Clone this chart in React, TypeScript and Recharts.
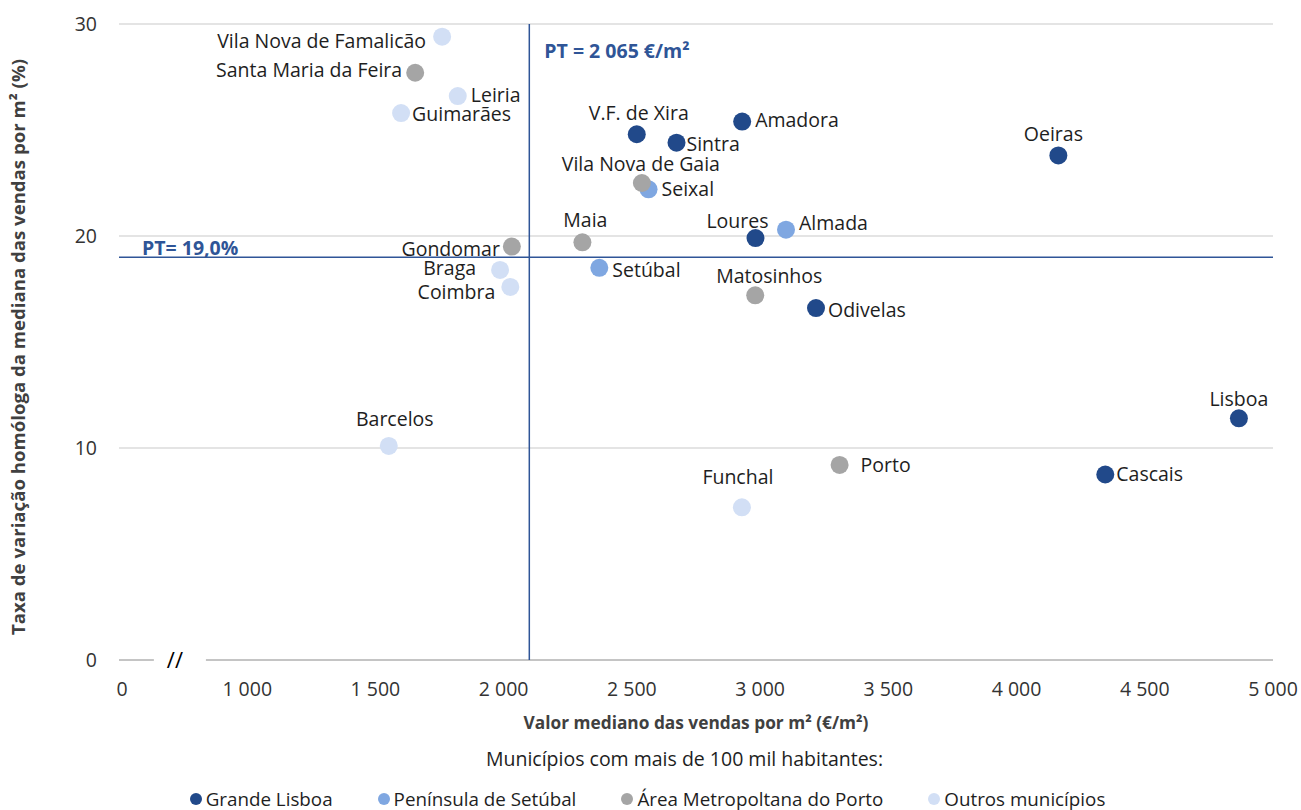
import React from 'react';
import {
  ScatterChart,
  Scatter,
  XAxis,
  YAxis,
  ReferenceLine,
  ReferenceDot,
  Legend,
} from 'recharts';

// ---------- data ----------
const lisboaNames = ['V.F. de Xira', 'Sintra', 'Amadora', 'Oeiras', 'Loures', 'Odivelas', 'Lisboa', 'Cascais'];
const lisboaX = [2519, 2674, 2930, 4163, 2982, 3218, 4867, 4346];
const lisboaY = [24.8, 24.4, 25.4, 23.8, 19.9, 16.6, 11.4, 8.75];

const setubalNames = ['Seixal', 'Almada', 'Setúbal'];
const setubalX = [2565, 3101, 2373];
const setubalY = [22.2, 20.3, 18.5];

const portoNames = ['Santa Maria da Feira', 'Vila Nova de Gaia', 'Gondomar', 'Maia', 'Matosinhos', 'Porto'];
const portoX = [1655, 2539, 2032, 2307, 2981, 3310];
const portoY = [27.7, 22.5, 19.5, 19.7, 17.2, 9.2];

const outrosNames = ['Vila Nova de Famalicão', 'Leiria', 'Guimarães', 'Braga', 'Coimbra', 'Barcelos', 'Funchal'];
const outrosX = [1760, 1821, 1600, 1986, 2026, 1552, 2929];
const outrosY = [29.4, 26.6, 25.8, 18.4, 17.6, 10.1, 7.2];

const seriesNames = ['Grande Lisboa', 'Península de Setúbal', 'Área Metropoltana do Porto', 'Outros municípios'];

const xTicks = [500, 1000, 1500, 2000, 2500, 3000, 3500, 4000, 4500, 5000];
const yTicks = [0, 10, 20, 30];
const gridY = [10, 20, 30];

const ptPrice = 2100; // position of the national reference line
const ptPriceLabel = 'PT = 2 065 €/m²';
const ptRate = 19.0;
const ptRateLabel = 'PT= 19,0%';

const xTitle = 'Valor mediano das vendas por m² (€/m²)';
const yTitle = 'Taxa de variação homóloga da mediana das vendas por m² (%)';
const legendTitle = 'Municípios com mais de 100 mil habitantes:';

// axis break (decoration on the zero line)
const breakFrom = 636;
const breakTo = 839;
const breakMark = 718;

// ---------- styles ----------
const FONT = '"Open Sans", Lato, sans-serif';
const FS = 19.5;
const colors = ['#21498A', '#7FA7E1', '#A5A5A5', '#D2DFF5'];
const ptColor = '#2F5597';
const textColor = '#1E1E1E';

// label placement: [anchor, dx, dy]
const labelPos: Record<string, [string, number, number]> = {
  'Vila Nova de Famalicão': ['end', -16, 4],
  'Santa Maria da Feira': ['end', -13, -3],
  'Leiria': ['start', 13, -1],
  'Guimarães': ['start', 11, 1],
  'V.F. de Xira': ['middle', 2, -21],
  'Sintra': ['start', 10, 1],
  'Amadora': ['start', 13, -2],
  'Vila Nova de Gaia': ['middle', -1, -19],
  'Seixal': ['start', 13, 0],
  'Maia': ['middle', 3, -22],
  'Loures': ['middle', -18, -17],
  'Almada': ['start', 13, -7],
  'Gondomar': ['end', -12, 2],
  'Braga': ['end', -24, -2],
  'Coimbra': ['end', -15, 5],
  'Setúbal': ['start', 13, 2],
  'Matosinhos': ['middle', 14, -19],
  'Odivelas': ['start', 12, 2],
  'Barcelos': ['middle', 6, -27],
  'Funchal': ['middle', -4, -30],
  'Porto': ['start', 21, 0],
  'Oeiras': ['middle', -5, -21],
  'Lisboa': ['middle', 0, -19],
  'Cascais': ['start', 11, -1],
};

const build = (names: string[], xs: number[], ys: number[]) =>
  names.map((n, i) => ({ name: n, x: xs[i], y: ys[i] }));

const lisboaData = build(lisboaNames, lisboaX, lisboaY);
const setubalData = build(setubalNames, setubalX, setubalY);
const portoData = build(portoNames, portoX, portoY);
const outrosData = build(outrosNames, outrosX, outrosY);

const fmtX = (v: number) => {
  if (v === 500) return '0';
  const th = Math.floor(v / 1000);
  const rest = String(v % 1000).padStart(3, '0');
  return th > 0 ? `${th}\u00A0${rest}` : String(v);
};

const makeShape = (color: string) => (props: any) => {
  const { cx, cy, payload } = props;
  if (cx == null || cy == null) return null;
  const pos = labelPos[payload.name] || ['start', 12, 0];
  return (
    <g>
      <circle cx={cx} cy={cy} r={9} fill={color} />
      <text
        x={cx + pos[1]}
        y={cy + pos[2] + 7}
        textAnchor={pos[0] as any}
        fontFamily={FONT}
        fontSize={FS}
        fill={textColor}
      >
        {payload.name}
      </text>
    </g>
  );
};

const XTick = (props: any) => {
  const { x, y, payload } = props;
  const v = payload.value;
  return (
    <text x={x + (v === 500 ? 3 : 0)} y={y + 14} textAnchor="middle" fontFamily={FONT} fontSize={FS} fill="#333">
      {fmtX(v)}
    </text>
  );
};

const YTick = (props: any) => {
  const { x, y, payload } = props;
  return (
    <text x={x} y={y + 7} textAnchor="end" fontFamily={FONT} fontSize={FS} fill="#333">
      {payload.value}
    </text>
  );
};

const LegendContent = () => (
  <div style={{ fontFamily: FONT, fontSize: FS, color: textColor, width: 1301 }}>
    <div style={{ textAlign: 'center', paddingLeft: 68, lineHeight: '28px' }}>{legendTitle}</div>
    <div
      style={{
        display: 'flex',
        justifyContent: 'center',
        gap: 45,
        marginTop: 14,
        paddingRight: 6,
        lineHeight: '24px',
      }}
    >
      {seriesNames.map((n, i) => (
        <div key={n} style={{ display: 'flex', alignItems: 'center' }}>
          <span
            style={{
              display: 'inline-block',
              width: 12,
              height: 12,
              borderRadius: 6,
              background: colors[i],
              marginRight: 4,
            }}
          />
          <span style={{ fontSize: 18.8 }}>{n}</span>
        </div>
      ))}
    </div>
  </div>
);

export default function App() {
  return (
    <div style={{ position: 'absolute', left: 0, top: 0, width: 1301, height: 810, background: '#fff' }}>
      <ScatterChart width={1301} height={810} margin={{ top: 24, right: 28, bottom: 120, left: 59 }}>
        <XAxis
          type="number"
          dataKey="x"
          domain={[500, 5000]}
          ticks={xTicks}
          interval={0}
          axisLine={false}
          tickLine={false}
          tickSize={0}
          tickMargin={22}
          height={30}
          tick={<XTick />}
          label={{
            content: (p: any) => {
              const vb = p.viewBox || { x: 119, y: 660, width: 1154 };
              return (
                <text
                  x={vb.x + vb.width / 2}
                  y={729}
                  textAnchor="middle"
                  fontFamily={FONT}
                  fontSize={17.3}
                  fontWeight="bold"
                  fill="#404040"
                >
                  {xTitle}
                </text>
              );
            },
          }}
        />
        <YAxis
          type="number"
          dataKey="y"
          domain={[0, 30]}
          ticks={yTicks}
          interval={0}
          axisLine={false}
          tickLine={false}
          tickSize={0}
          tickMargin={22}
          width={60}
          tick={<YTick />}
          label={{
            content: () => (
              <text
                x={0}
                y={0}
                transform={`translate(25, 347) rotate(-90)`}
                textAnchor="middle"
                fontFamily={FONT}
                fontSize={18.6}
                fontWeight="bold"
                fill="#404040"
              >
                {yTitle}
              </text>
            ),
          }}
        />
        {gridY.map((g) => (
          <ReferenceLine key={g} y={g} stroke="#C9C9C9" strokeWidth={1} />
        ))}
        <ReferenceLine
          segment={[
            { x: 500, y: 0 },
            { x: breakFrom, y: 0 },
          ]}
          stroke="#8A8A8A"
          strokeWidth={1}
        />
        <ReferenceLine
          segment={[
            { x: breakTo, y: 0 },
            { x: 5000, y: 0 },
          ]}
          stroke="#8A8A8A"
          strokeWidth={1}
        />
        <ReferenceDot
          x={breakMark}
          y={0}
          r={0}
          shape={(p: any) => (
            <text x={p.cx} y={p.cy + 8} textAnchor="middle" fontFamily={FONT} fontSize={22} fill="#000">
              //
            </text>
          )}
        />
        <ReferenceLine
          x={ptPrice}
          stroke={ptColor}
          strokeWidth={1.5}
          label={{
            content: (p: any) => {
              const vb = p.viewBox || { x: 530, y: 24 };
              return (
                <text x={vb.x + 15} y={vb.y + 34} fontFamily={FONT} fontSize={FS} fontWeight="bold" fill={ptColor}>
                  {ptPriceLabel}
                </text>
              );
            },
          }}
        />
        <ReferenceLine
          y={ptRate}
          stroke={ptColor}
          strokeWidth={1.5}
          label={{
            content: (p: any) => {
              const vb = p.viewBox || { x: 119, y: 257 };
              return (
                <text x={vb.x + 23} y={vb.y - 2} fontFamily={FONT} fontSize={FS} fontWeight="bold" fill={ptColor}>
                  {ptRateLabel}
                </text>
              );
            },
          }}
        />
        <Scatter name={seriesNames[0]} data={lisboaData} shape={makeShape(colors[0])} isAnimationActive={false} />
        <Scatter name={seriesNames[1]} data={setubalData} shape={makeShape(colors[1])} isAnimationActive={false} />
        <Scatter name={seriesNames[2]} data={portoData} shape={makeShape(colors[2])} isAnimationActive={false} />
        <Scatter name={seriesNames[3]} data={outrosData} shape={makeShape(colors[3])} isAnimationActive={false} />
        <Legend
          layout="horizontal"
          verticalAlign="middle"
          align="center"
          wrapperStyle={{ position: 'absolute', top: 745, left: 0, width: 1301 }}
          content={<LegendContent />}
        />
      </ScatterChart>
    </div>
  );
}
